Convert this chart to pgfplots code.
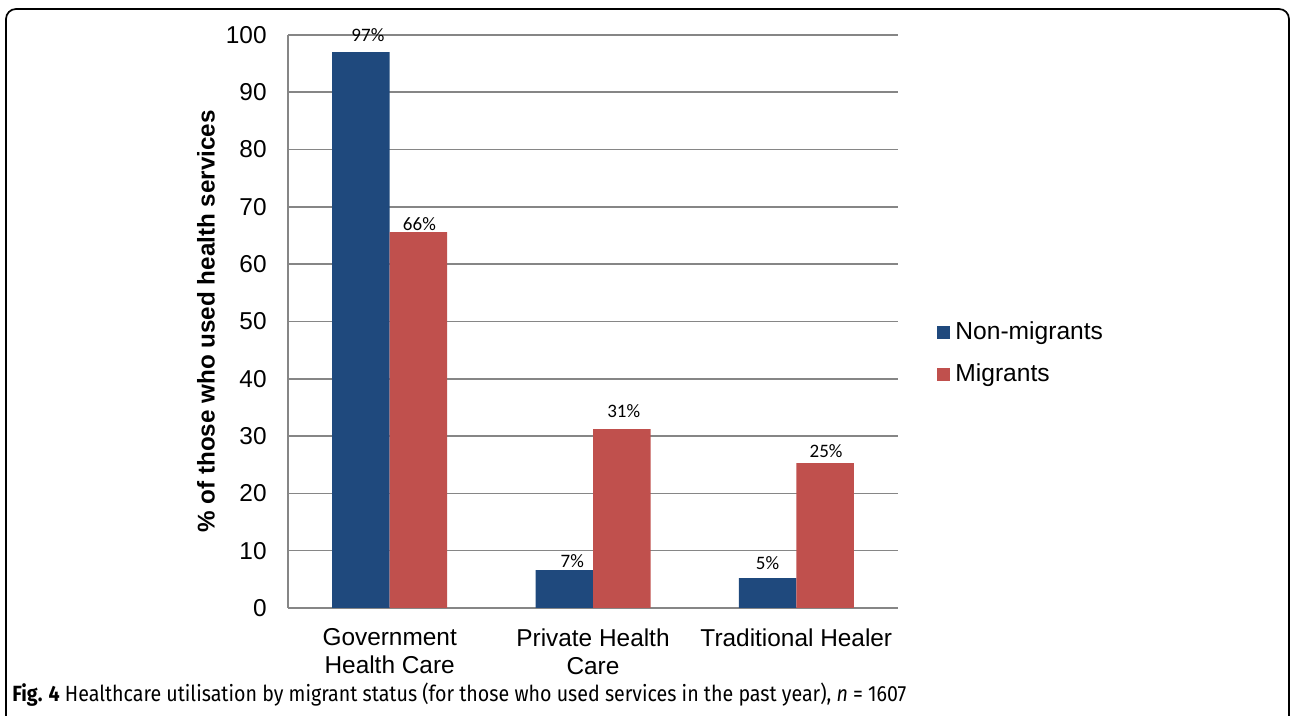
\documentclass[border=0pt]{standalone}
\usepackage{fontspec}
\setmainfont{Liberation Sans}
\newfontfamily\carlito{Carlito}
\newfontfamily\capfont{Fira Sans}
\usepackage{pgfplots}
\usepackage{pgfplotstable}
\usepackage{graphicx}
\pgfplotsset{compat=1.18}
\definecolor{nonmig}{HTML}{1F497D}
\definecolor{mig}{HTML}{C0504D}
\definecolor{gridgray}{RGB}{134,134,134}

\pgfplotstableread{
x y dx dy
0 97.0 3.5 8.5
1 6.6 4 4.5
2 5.2 0 7.5
}\nonmigtab
\pgfplotstableread{
x y dx dy
0 65.6 0.5 4
1 31.2 1 9
2 25.3 0.5 6
}\migtab

\begin{document}
\begin{tikzpicture}[x=1pt,y=1pt]
\useasboundingbox (0,0) rectangle (646,358);
\draw[line width=0.85pt, rounded corners=5pt] (3,-20) rectangle (644.5,353.5);
\begin{axis}[
  at={(144pt,54pt)}, anchor=south west,
  scale only axis, width=305pt, height=286.5pt,
  /pgf/number format/assume math mode=true,
  font=\fontsize{12.2}{14}\selectfont,
  ybar=0pt, bar width=28.75pt,
  xmin=-0.5, xmax=2.5, ymin=0, ymax=100,
  enlargelimits=false,
  xtick={0,1,2},
  xticklabels={{Government\\Health Care},{Private Health\\Care},{Traditional Healer}},
  xticklabel style={align=center, anchor=north, inner sep=0pt, yshift=-10pt, font=\fontsize{12.2}{14}\selectfont},
  ytick={0,10,...,100},
  yticklabel style={anchor=east, inner sep=0pt, xshift=-10.5pt, font=\fontsize{12.2}{14}\selectfont},
  axis x line*=bottom, axis y line*=left,
  axis line style={draw=gridgray, line width=0.8pt, -},
  major tick length=0pt, tick style={draw=none},
  ymajorgrids, grid style={draw=gridgray, line width=0.8pt},
  ylabel={\bfseries \% of those who used health services},
  ylabel style={at={(axis description cs:-0.1344,0.5)}, anchor=center, font=\fontsize{12.1}{14}\selectfont},
  legend style={at={(axis description cs:1.0639,0.4433)}, anchor=west, draw=none, fill=none,
    inner sep=0pt, row sep=9.6pt, column sep=2.5pt,
    nodes={inner sep=0pt, anchor=west, text height=8.8pt, text depth=2.6pt},
    font=\fontsize{12.3}{14}\selectfont},
  legend cell align=left,
  nodes near coords={\carlito\pgfmathprintnumber[fixed,precision=0]{\pgfplotspointmeta}\%},
  visualization depends on={\thisrow{dx} \as \dx},
  visualization depends on={\thisrow{dy} \as \dy},
  nodes near coords style={anchor=center, inner sep=0pt, xshift=\dx pt, yshift=\dy pt, font=\fontsize{9.5}{11}\selectfont, text=black},
]
\addplot[fill=nonmig, draw=none, legend image code/.code={\fill[nonmig] (0pt,-3.25pt) rectangle (6.5pt,3.25pt);}] table[x=x,y=y] {\nonmigtab};
\addplot[fill=mig, draw=none, legend image code/.code={\fill[mig] (0pt,-3.25pt) rectangle (6.5pt,3.25pt);}] table[x=x,y=y] {\migtab};
\legend{Non-migrants, Migrants}
\end{axis}
\node[anchor=base west, inner sep=0pt] at (6,7.2) {\resizebox{447pt}{\height}{\capfont\fontsize{11}{13}\selectfont\textbf{Fig. 4} Healthcare utilisation by migrant status (for those who used services in the past year), \textit{n} = 1607}};
\end{tikzpicture}
\end{document}
